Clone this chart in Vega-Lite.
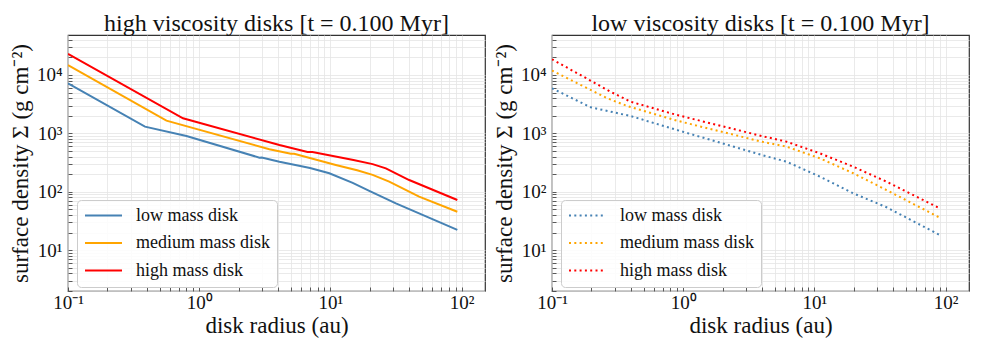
{
  "$schema": "https://vega.github.io/schema/vega-lite/v6.json",
  "autosize": {"type": "none"},
  "padding": {"left": 68, "top": 35, "right": 913, "bottom": 315},
  "bounds": "flush",
  "spacing": 67,
  "config": {
    "font": "Liberation Serif",
    "view": {"stroke": "#333", "strokeWidth": 1.2},
    "axis": {
      "labelFont": "Liberation Serif", "titleFont": "Liberation Serif",
      "labelFontSize": 19, "labelColor": "#111", "titleColor": "#111",
      "titleFontSize": 23, "titleFontWeight": "normal",
      "grid": true, "gridColor": "#e4e4e4", "gridWidth": 0.8,
      "domain": false, "ticks": true, "tickSize": -4, "tickColor": "#333", "tickWidth": 0.8,
      "labelOverlap": false, "labelFlush": false
    },
    "title": {"font": "Liberation Serif", "fontSize": 24, "fontWeight": "normal", "color": "#111", "baseline": "alphabetic", "offset": -5, "anchor": "middle"},
    "legend": {
      "orient": "none", "legendX": 9, "legendY": 165, "padding": 7,
      "symbolType": "stroke", "symbolSize": 1369, "symbolStrokeWidth": 2, "clipHeight": 17,
      "labelFont": "Liberation Serif", "labelFontSize": 18, "labelColor": "#111",
      "labelOffset": 13, "rowPadding": 8.5, "strokeColor": "#cccccc",
      "fillColor": "rgba(255,255,255,0.85)", "cornerRadius": 4, "labelLimit": 300
    }
  },
  "datasets": {
    "high": [
      {"r": 0.1, "s": 7210, "disk": "low mass disk"},
      {"r": 0.386, "s": 1303, "disk": "low mass disk"},
      {"r": 0.8, "s": 902, "disk": "low mass disk"},
      {"r": 2.88, "s": 384, "disk": "low mass disk"},
      {"r": 3.0, "s": 387, "disk": "low mass disk"},
      {"r": 4.09, "s": 327, "disk": "low mass disk"},
      {"r": 7.0, "s": 255, "disk": "low mass disk"},
      {"r": 9.82, "s": 208, "disk": "low mass disk"},
      {"r": 14.8, "s": 142, "disk": "low mass disk"},
      {"r": 19.8, "s": 104, "disk": "low mass disk"},
      {"r": 31.6, "s": 63.5, "disk": "low mass disk"},
      {"r": 92.9, "s": 22.2, "disk": "low mass disk"},
      {"r": 0.1, "s": 14800, "disk": "medium mass disk"},
      {"r": 0.563, "s": 1650, "disk": "medium mass disk"},
      {"r": 3.43, "s": 535, "disk": "medium mass disk"},
      {"r": 5.0, "s": 447, "disk": "medium mass disk"},
      {"r": 5.3, "s": 446, "disk": "medium mass disk"},
      {"r": 11.0, "s": 288, "disk": "medium mass disk"},
      {"r": 16.0, "s": 234, "disk": "medium mass disk"},
      {"r": 21.0, "s": 195, "disk": "medium mass disk"},
      {"r": 28.1, "s": 149, "disk": "medium mass disk"},
      {"r": 47.5, "s": 82.4, "disk": "medium mass disk"},
      {"r": 92.9, "s": 45.6, "disk": "medium mass disk"},
      {"r": 0.1, "s": 22900, "disk": "high mass disk"},
      {"r": 0.753, "s": 1815, "disk": "high mass disk"},
      {"r": 4.09, "s": 632, "disk": "high mass disk"},
      {"r": 6.7, "s": 480, "disk": "high mass disk"},
      {"r": 7.3, "s": 482, "disk": "high mass disk"},
      {"r": 15.0, "s": 350, "disk": "high mass disk"},
      {"r": 21.0, "s": 298, "disk": "high mass disk"},
      {"r": 26.5, "s": 252, "disk": "high mass disk"},
      {"r": 39.9, "s": 159, "disk": "high mass disk"},
      {"r": 92.9, "s": 72.4, "disk": "high mass disk"}
    ],
    "low": [
      {"r": 0.1, "s": 5920, "disk": "low mass disk"},
      {"r": 0.197, "s": 2800, "disk": "low mass disk"},
      {"r": 0.397, "s": 1985, "disk": "low mass disk"},
      {"r": 0.897, "s": 1143, "disk": "low mass disk"},
      {"r": 3.97, "s": 427, "disk": "low mass disk"},
      {"r": 6.15, "s": 327, "disk": "low mass disk"},
      {"r": 11.0, "s": 182, "disk": "low mass disk"},
      {"r": 19.8, "s": 94.2, "disk": "low mass disk"},
      {"r": 35.5, "s": 54.3, "disk": "low mass disk"},
      {"r": 90.3, "s": 18.2, "disk": "low mass disk"},
      {"r": 0.1, "s": 11900, "disk": "medium mass disk"},
      {"r": 0.264, "s": 3990, "disk": "medium mass disk"},
      {"r": 0.374, "s": 2945, "disk": "medium mass disk"},
      {"r": 0.897, "s": 1650, "disk": "medium mass disk"},
      {"r": 3.97, "s": 721, "disk": "medium mass disk"},
      {"r": 6.15, "s": 592, "disk": "medium mass disk"},
      {"r": 11.0, "s": 375, "disk": "medium mass disk"},
      {"r": 19.8, "s": 208, "disk": "medium mass disk"},
      {"r": 35.5, "s": 107, "disk": "medium mass disk"},
      {"r": 90.3, "s": 36.1, "disk": "medium mass disk"},
      {"r": 0.1, "s": 18600, "disk": "high mass disk"},
      {"r": 0.279, "s": 5180, "disk": "high mass disk"},
      {"r": 0.397, "s": 3490, "disk": "high mass disk"},
      {"r": 0.897, "s": 2065, "disk": "high mass disk"},
      {"r": 3.97, "s": 902, "disk": "high mass disk"},
      {"r": 6.15, "s": 721, "disk": "high mass disk"},
      {"r": 11.0, "s": 456, "disk": "high mass disk"},
      {"r": 19.8, "s": 269, "disk": "high mass disk"},
      {"r": 35.5, "s": 149, "disk": "high mass disk"},
      {"r": 90.3, "s": 52.1, "disk": "high mass disk"}
    ]
  },
  "resolve": {"legend": {"color": "independent"}, "scale": {"color": "independent"}},
  "hconcat": [
    {
      "width": 417, "height": 256,
      "title": "high viscosity disks [t = 0.100 Myr]",
      "data": {"name": "high"},
      "mark": {"type": "line", "strokeWidth": 2, "clip": true},
      "encoding": {
        "x": {"field": "r", "type": "quantitative",
          "scale": {"type": "log", "domain": [0.1, 151], "nice": false},
          "axis": {"title": "disk radius (au)", "titleBaseline": "alphabetic", "titleY": 41, "titleX": 208.5,
            "values": [0.1,0.2,0.3,0.4,0.5,0.6,0.7,0.8,0.9,1,2,3,4,5,6,7,8,9,10,20,30,40,50,60,70,80,90,100],
            "labelExpr": "datum.value == 0.1 ? '10⁻¹' : datum.value == 1 ? '10⁰' : datum.value == 10 ? '10¹' : datum.value == 100 ? '10²' : ''",
            "labelBaseline": "alphabetic", "labelPadding": 21}},
        "y": {"field": "s", "type": "quantitative",
          "scale": {"type": "log", "domain": [2, 48400], "nice": false},
          "axis": {"title": "surface density Σ (g cm⁻²)", "titleBaseline": "alphabetic", "titleX": -41, "titleY": 128, "titleAngle": 270, "titleAlign": "center",
            "values": [2,3,4,5,6,7,8,9,10,20,30,40,50,60,70,80,90,100,200,300,400,500,600,700,800,900,1000,2000,3000,4000,5000,6000,7000,8000,9000,10000,20000,30000,40000],
            "labelExpr": "datum.value == 10 ? '10¹' : datum.value == 100 ? '10²' : datum.value == 1000 ? '10³' : datum.value == 10000 ? '10⁴' : ''",
            "labelBaseline": "middle", "labelPadding": 10}},
        "color": {"field": "disk", "type": "nominal",
          "scale": {"domain": ["low mass disk", "medium mass disk", "high mass disk"], "range": ["#4682b4", "#ffa500", "#ff0000"]},
          "legend": {"title": null, "labelFont": "Liberation Serif", "clipHeight": 17}}
      }
    },
    {
      "width": 417, "height": 256,
      "title": "low viscosity disks [t = 0.100 Myr]",
      "data": {"name": "low"},
      "mark": {"type": "line", "strokeWidth": 2, "strokeDash": [2, 3.3], "clip": true},
      "encoding": {
        "x": {"field": "r", "type": "quantitative",
          "scale": {"type": "log", "domain": [0.1, 151], "nice": false},
          "axis": {"title": "disk radius (au)", "titleBaseline": "alphabetic", "titleY": 41, "titleX": 208.5,
            "values": [0.1,0.2,0.3,0.4,0.5,0.6,0.7,0.8,0.9,1,2,3,4,5,6,7,8,9,10,20,30,40,50,60,70,80,90,100],
            "labelExpr": "datum.value == 0.1 ? '10⁻¹' : datum.value == 1 ? '10⁰' : datum.value == 10 ? '10¹' : datum.value == 100 ? '10²' : ''",
            "labelBaseline": "alphabetic", "labelPadding": 21}},
        "y": {"field": "s", "type": "quantitative",
          "scale": {"type": "log", "domain": [2, 48400], "nice": false},
          "axis": {"title": "surface density Σ (g cm⁻²)", "titleBaseline": "alphabetic", "titleX": -41, "titleY": 128, "titleAngle": 270, "titleAlign": "center",
            "values": [2,3,4,5,6,7,8,9,10,20,30,40,50,60,70,80,90,100,200,300,400,500,600,700,800,900,1000,2000,3000,4000,5000,6000,7000,8000,9000,10000,20000,30000,40000],
            "labelExpr": "datum.value == 10 ? '10¹' : datum.value == 100 ? '10²' : datum.value == 1000 ? '10³' : datum.value == 10000 ? '10⁴' : ''",
            "labelBaseline": "middle", "labelPadding": 10}},
        "color": {"field": "disk", "type": "nominal",
          "scale": {"domain": ["low mass disk", "medium mass disk", "high mass disk"], "range": ["#4682b4", "#ffa500", "#ff0000"]},
          "legend": {"title": null, "symbolDash": [2, 3.3], "labelFont": "Liberation Serif", "clipHeight": 17}}
      }
    }
  ]
}
